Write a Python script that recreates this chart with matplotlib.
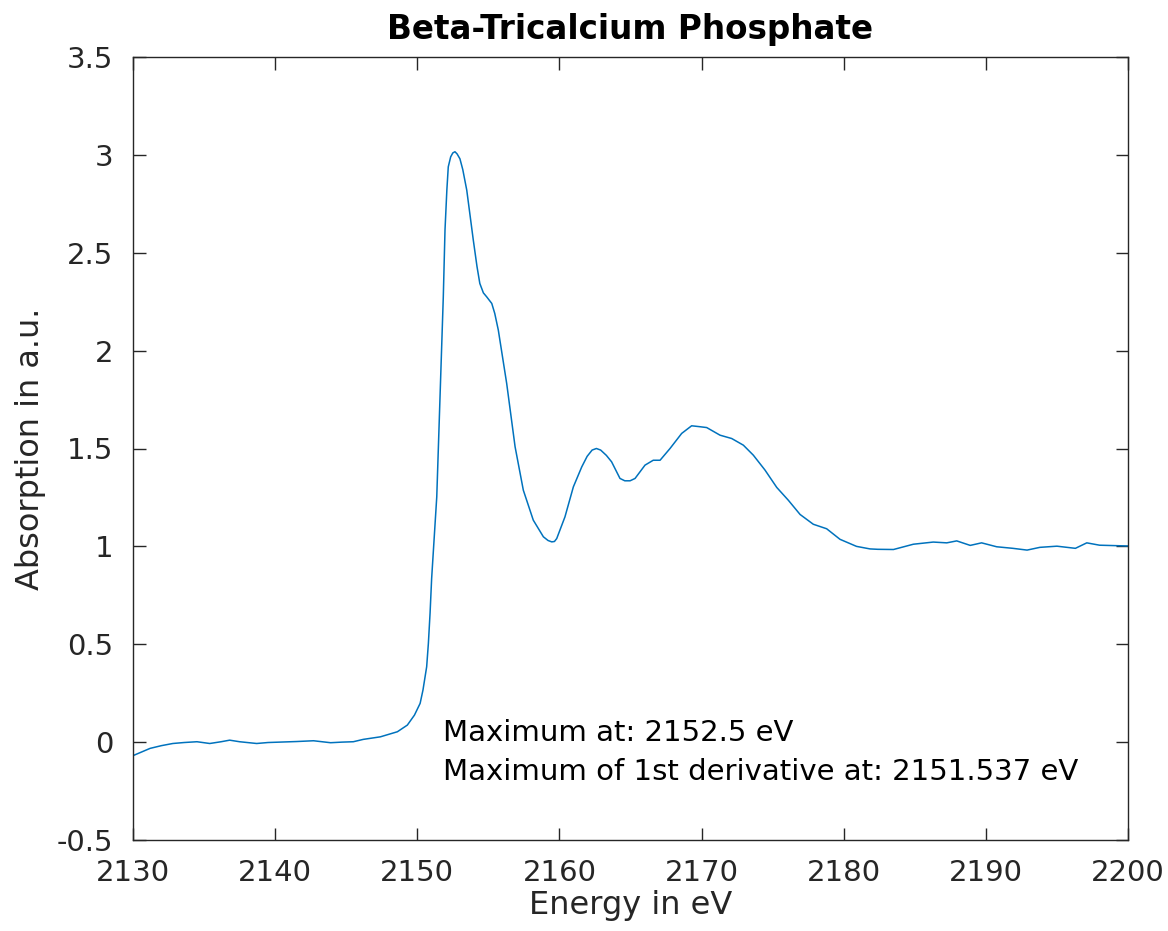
import matplotlib
matplotlib.use("Agg")
import matplotlib.pyplot as plt
import numpy as np

energy = [2130.1, 2131.2, 2132.0, 2132.8, 2133.6, 2134.5, 2135.4, 2136.2, 2136.8, 2137.5,
          2138.7, 2139.5, 2140.3, 2141.5, 2142.7, 2143.9, 2144.7, 2145.5, 2146.2, 2147.4,
          2148.6, 2149.3, 2149.8, 2150.2, 2150.4, 2150.66, 2150.78, 2150.9, 2151.01, 2151.37,
          2151.6, 2151.83, 2151.95, 2152.08, 2152.18, 2152.35, 2152.5, 2152.65, 2152.8, 2153.0,
          2153.2, 2153.48, 2153.94, 2154.2, 2154.4, 2154.65, 2154.88, 2155.24, 2155.45, 2155.7,
          2156.29, 2156.88, 2157.46, 2158.16, 2158.87, 2159.2, 2159.46, 2159.65, 2159.81, 2160.39,
          2160.98, 2161.57, 2161.95, 2162.3, 2162.6, 2162.9, 2163.3, 2163.67, 2164.26, 2164.6,
          2164.97, 2165.32, 2166.02, 2166.6, 2167.08, 2167.78, 2168.6, 2169.3, 2169.8, 2170.36,
          2171.3, 2172.12, 2172.94, 2173.64, 2174.46, 2175.29, 2176.1, 2176.93, 2177.86, 2178.8,
          2179.74, 2180.9, 2181.85, 2182.4, 2183.5, 2184.9, 2186.3, 2187.25, 2187.95, 2188.9,
          2189.7, 2190.76, 2191.9, 2192.9, 2193.8, 2195.0, 2196.3, 2197.1, 2198.0, 2199.0,
          2200.0]
absorption = [-0.066, -0.032, -0.018, -0.007, -0.002, 0.002, -0.007, 0.002, 0.010, 0.002,
              -0.007, -0.002, 0.000, 0.003, 0.007, -0.003, 0.000, 0.002, 0.014, 0.027,
              0.053, 0.087, 0.138, 0.198, 0.266, 0.385, 0.504, 0.660, 0.836, 1.253,
              1.764, 2.275, 2.616, 2.820, 2.939, 2.990, 3.010, 3.016, 3.005, 2.980,
              2.925, 2.820, 2.565, 2.430, 2.343, 2.295, 2.275, 2.241, 2.190, 2.105,
              1.832, 1.509, 1.287, 1.134, 1.049, 1.030, 1.023, 1.025, 1.040, 1.151,
              1.304, 1.406, 1.460, 1.492, 1.500, 1.492, 1.465, 1.432, 1.347, 1.335,
              1.335, 1.347, 1.415, 1.440, 1.440, 1.500, 1.577, 1.616, 1.612, 1.607,
              1.568, 1.551, 1.517, 1.466, 1.390, 1.301, 1.236, 1.163, 1.113, 1.090,
              1.036, 1.000, 0.987, 0.985, 0.984, 1.011, 1.022, 1.018, 1.028, 1.005,
              1.018, 0.998, 0.990, 0.981, 0.995, 1.001, 0.990, 1.018, 1.006, 1.004,
              1.002]

xticks = [2130, 2140, 2150, 2160, 2170, 2180, 2190, 2200]
yticks = [-0.5, 0, 0.5, 1, 1.5, 2, 2.5, 3, 3.5]
ytick_labels = ["-0.5", "0", "0.5", "1", "1.5", "2", "2.5", "3", "3.5"]

title = "Beta-Tricalcium Phosphate"
xlabel = "Energy in eV"
ylabel = "Absorption in a.u."
note_lines = ["Maximum at: 2152.5 eV", "Maximum of 1st derivative at: 2151.537 eV"]

plt.rcParams['font.family'] = ['DejaVu Sans']
fig = plt.figure(figsize=(11.68, 9.31), dpi=100)
ax = fig.add_axes([133/1168, 1 - 840/931, (1128-133)/1168, (840-57)/931])

ax.plot(energy, absorption, color='#0072BD', linewidth=1.1)
ax.set_xlim(2130, 2200)
ax.set_ylim(-0.5, 3.5)
ax.set_xticks(xticks)
ax.set_yticks(yticks)
ax.set_yticklabels(ytick_labels)

grey = '#262626'
for s in ax.spines.values():
    s.set_color(grey)
    s.set_linewidth(1.0)
ax.tick_params(direction='in', length=9, width=1.0, color=grey, labelcolor=grey,
               labelsize=21, top=True, right=True, pad=14)
ax.set_title(title, fontsize=23.5, fontweight='bold', pad=13)
ax.set_xlabel(xlabel, fontsize=23, color=grey, labelpad=2)
ax.set_ylabel(ylabel, fontsize=23, color=grey, labelpad=8)

ax.text(2151.8, 0.046, note_lines[0], fontsize=21, color='black', va='center', ha='left')
ax.text(2151.8, -0.153, note_lines[1], fontsize=21, color='black', va='center', ha='left')

fig.savefig("out.png", dpi=100)
